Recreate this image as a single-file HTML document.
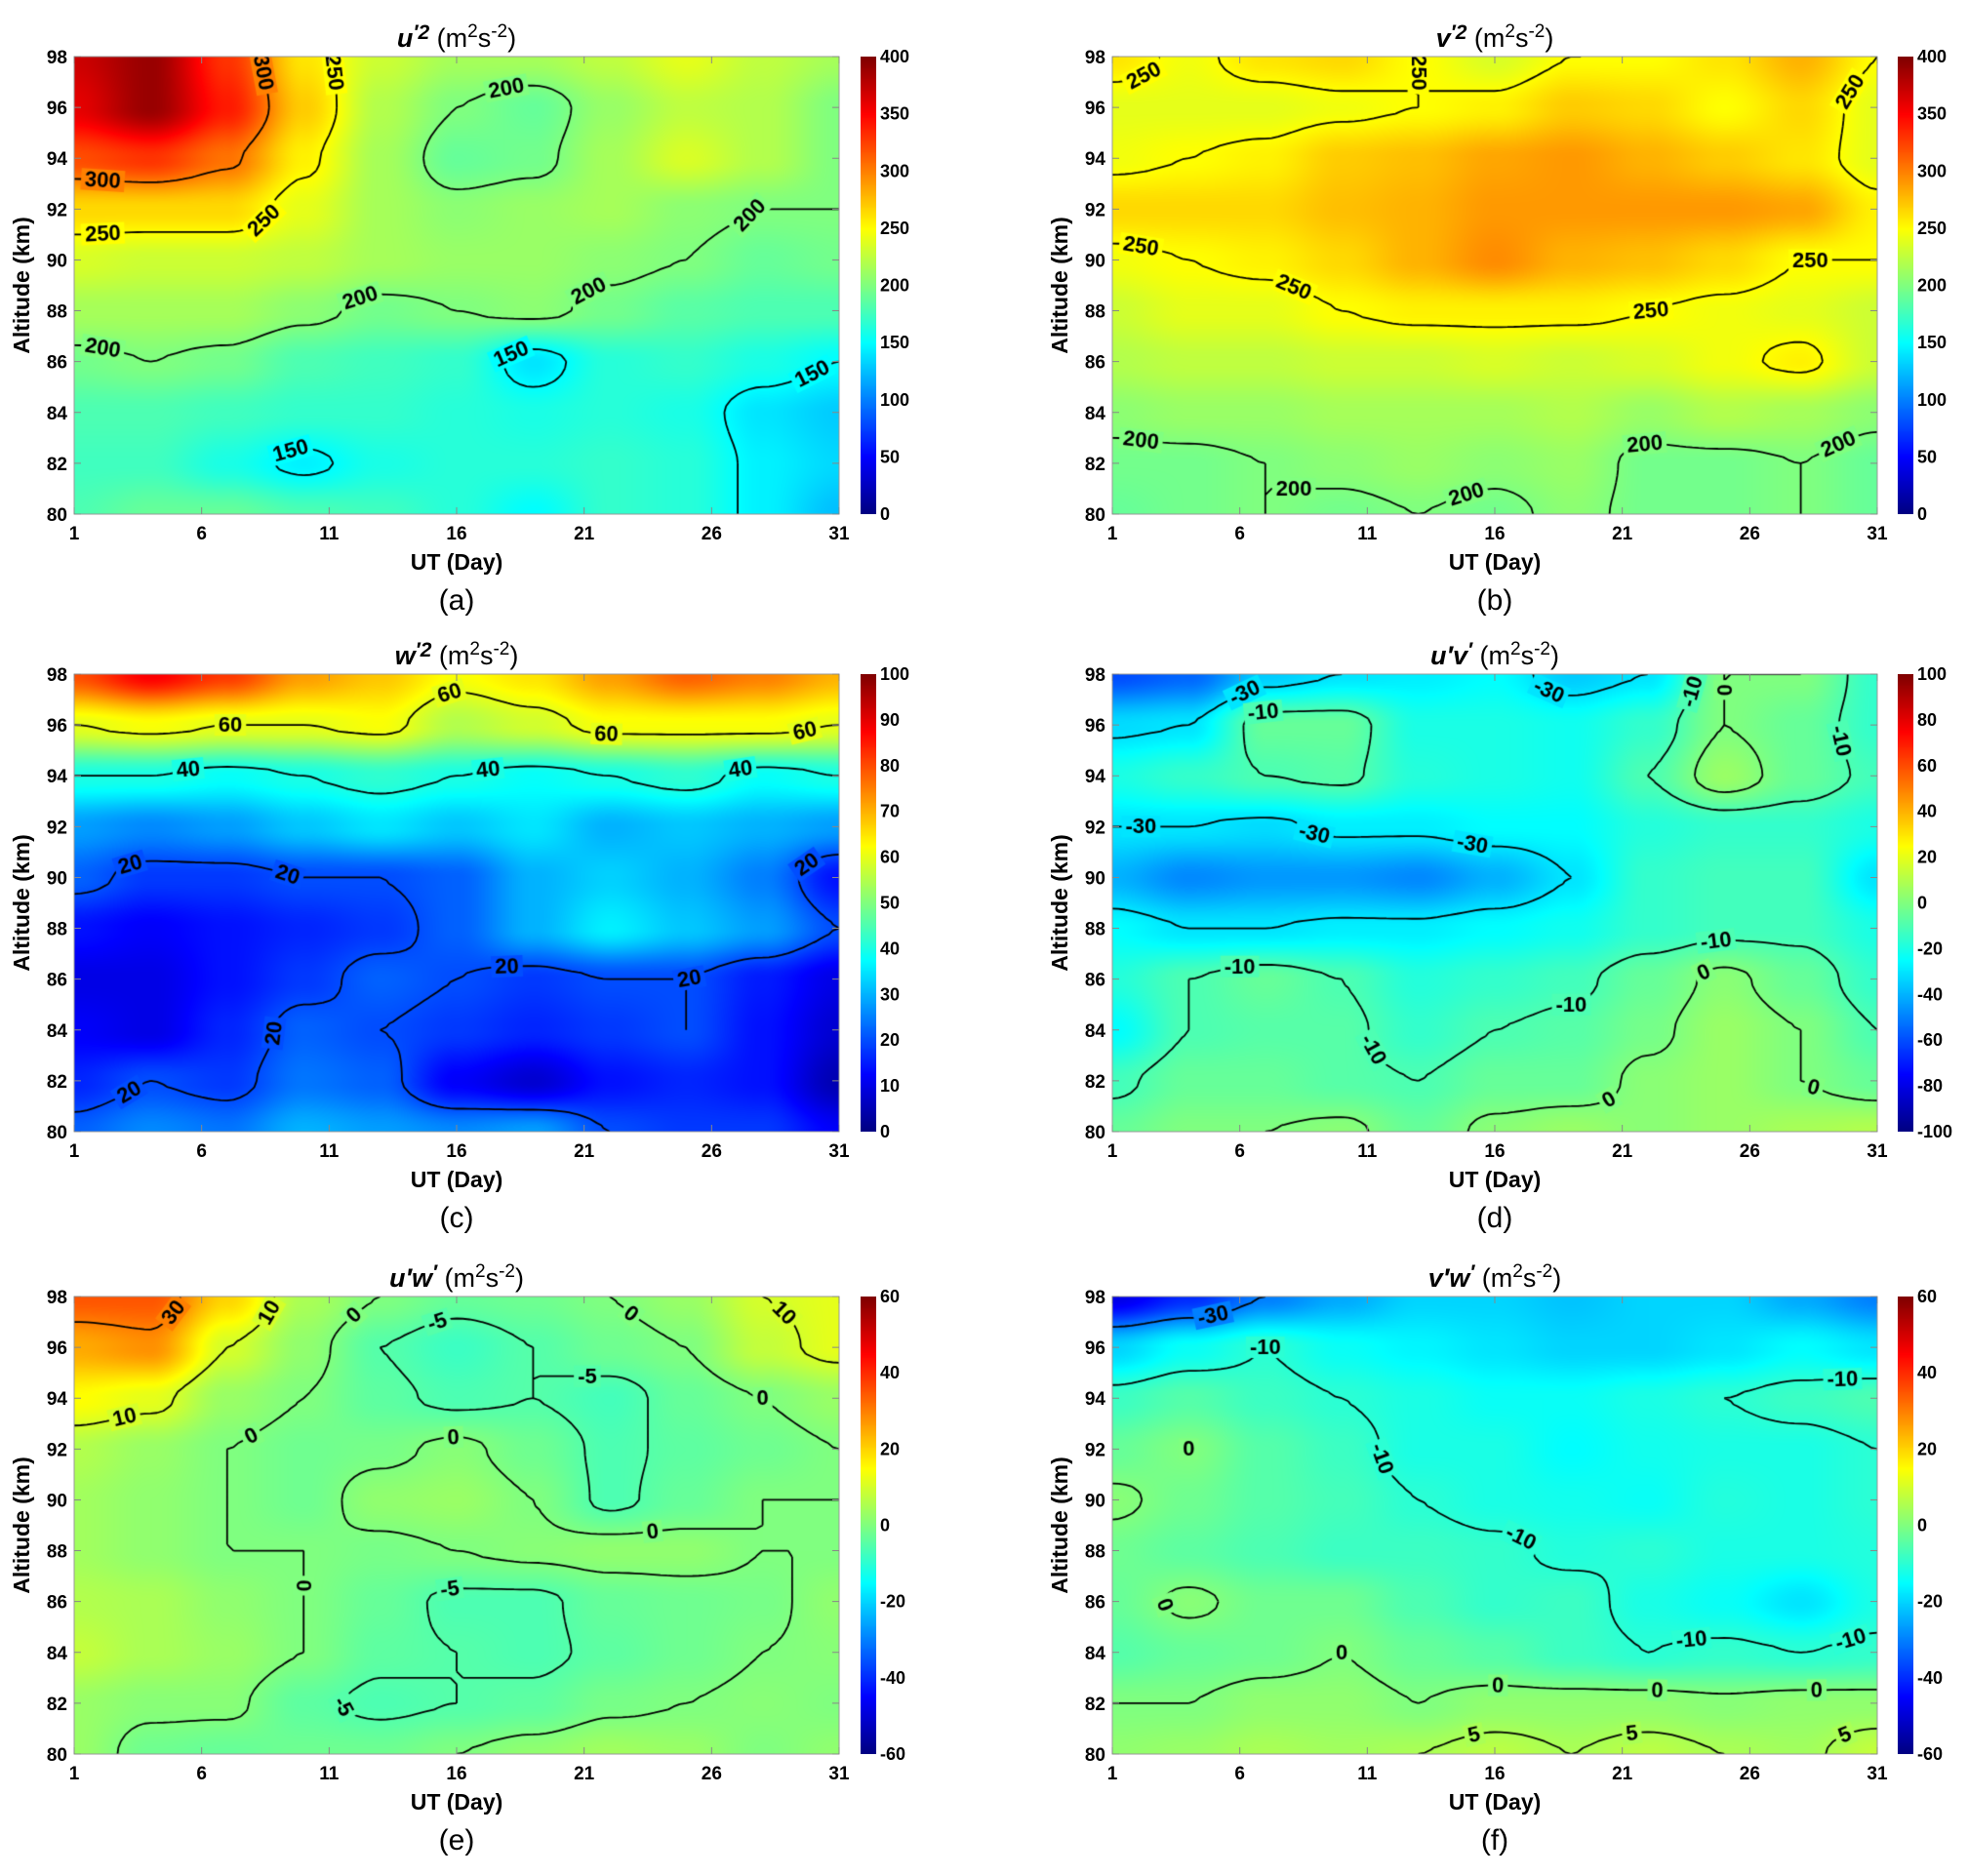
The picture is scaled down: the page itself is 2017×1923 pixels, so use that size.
<!DOCTYPE html>
<html><head><meta charset="utf-8">
<style>
html,body{margin:0;padding:0;background:#fff;}
#root{position:relative;width:2017px;height:1923px;overflow:hidden;font-family:"Liberation Sans",sans-serif;}
canvas{position:absolute;}
svg{position:absolute;left:0;top:0;}
</style></head>
<body>
<div id="root">
<svg id="ax" width="2017" height="1923"></svg>
</div>
<script>
// ---- data (rows listed top→bottom: altitude 98 → 80; columns = days) ----
const days=[1,4,7,10,13,16,19,22,25,28,31];
const alts=[98,96,94,92,90,88,86,84,82,80];
const xTicks=[1,6,11,16,21,26,31];
const yTicks=[80,82,84,86,88,90,92,94,96,98];
const uuValues=[
[370,390,330,260,230,215,215,225,240,225,215],
[360,390,340,270,220,200,190,210,225,220,200],
[320,330,305,255,215,190,195,215,235,220,200],
[265,265,265,240,215,205,210,215,205,200,200],
[235,230,230,225,215,210,210,205,200,190,195],
[215,215,215,205,195,200,205,195,185,180,180],
[195,200,195,180,175,170,140,165,170,160,150],
[180,180,175,170,170,165,160,165,160,140,130],
[175,175,160,145,160,165,165,170,165,145,135],
[180,190,190,180,175,165,150,170,165,145,125]];
const vvValues=[
[260,245,260,265,250,235,250,250,260,280,250],
[240,240,240,245,250,255,270,265,250,265,240],
[245,250,255,270,275,285,290,280,270,260,240],
[265,265,265,275,280,290,290,290,290,285,255],
[245,250,255,265,280,295,280,275,265,250,250],
[230,240,240,250,255,255,255,250,245,240,230],
[220,225,225,230,230,235,230,235,245,255,230],
[205,210,210,215,215,215,220,210,220,215,205],
[195,195,200,205,210,205,210,195,195,200,190],
[190,195,200,195,200,195,205,195,195,200,190]];
const wwValues=[
[80,88,82,72,68,62,65,72,78,75,70],
[60,62,60,60,62,55,58,62,62,62,60],
[40,40,38,40,42,40,38,40,42,38,40],
[28,26,28,32,35,32,35,30,32,30,28],
[22,18,18,20,20,22,30,33,30,25,14],
[14,12,14,16,18,22,30,36,32,28,20],
[10,10,14,18,22,20,18,20,20,15,10],
[12,10,16,22,20,18,16,18,20,14,8],
[16,20,18,24,22,12,8,14,16,14,5],
[22,26,24,30,28,26,28,20,18,18,12]];
const uvValues=[
[-60,-55,-35,-30,-28,-25,-35,-30,0,0,-15],
[-32,-30,-5,-5,-20,-20,-22,-15,0,-5,-15],
[-20,-15,-10,-8,-18,-20,-22,-10,5,-5,-12],
[-30,-30,-32,-28,-28,-25,-25,-18,-15,-15,-20],
[-40,-48,-45,-45,-48,-40,-30,-15,-12,-12,-30],
[-25,-30,-30,-28,-28,-25,-22,-15,-12,-12,-20],
[-18,-10,-5,-10,-18,-15,-12,-5,2,-5,-15],
[-25,-10,-8,-8,-15,-10,-8,-2,5,0,-10],
[-12,-5,-5,-8,-10,-5,-5,2,5,0,-5],
[-5,0,0,2,-5,2,5,2,5,8,10]];
const uwValues=[
[35,35,20,5,0,-3,-2,0,3,10,12],
[25,28,10,2,-5,-8,-5,-2,0,8,12],
[15,12,3,0,-4,-6,-5,-7,-3,0,3],
[6,3,0,-2,-1,1,-2,-6,-4,-2,0],
[4,2,0,-2,2,3,0,-6,-3,0,0],
[4,2,0,0,-1,0,1,2,2,0,0],
[6,5,2,0,-3,-6,-6,-3,-2,-1,2],
[8,5,3,0,-4,-5,-6,-4,-2,0,1],
[3,1,1,-4,-6,-5,-4,-1,0,1,0],
[3,-2,-3,-2,-2,0,2,4,3,0,2]];
const vwValues=[
[-48,-40,-30,-25,-20,-20,-22,-20,-20,-25,-30],
[-20,-14,-10,-14,-16,-18,-20,-20,-18,-15,-18],
[-8,-5,-8,-10,-12,-14,-14,-12,-10,-8,-6],
[-3,0,-5,-8,-12,-12,-15,-13,-12,-12,-10],
[1,-2,-5,-7,-10,-12,-13,-14,-11,-12,-10],
[-2,-4,-6,-8,-8,-9,-11,-10,-12,-12,-11],
[-3,1,-2,-2,-6,-9,-8,-12,-14,-18,-12],
[-5,-3,-2,0,-3,-5,-8,-10,-9,-10,-9],
[0,0,2,2,0,2,2,2,1,2,2],
[2,3,5,4,5,7,5,7,5,4,8]];
const uuLevels=[150,200,250,300], vvLevels=[200,250], wwLevels=[20,40,60];
const uvLevels=[-30,-10,0], uwLevels=[-5,0,10,30], vwLevels=[-30,-10,0,5];
const uuCbar=[0,50,100,150,200,250,300,350,400];
const wwCbar=[0,10,20,30,40,50,60,70,80,90,100];
const uvCbar=[-100,-80,-60,-40,-20,0,20,40,60,80,100];
const uwCbar=[-60,-40,-20,0,20,40,60];

const panels=[
 {id:'a',t1:'u',t2:'\u2032',sup:'2',vals:uuValues,lev:uuLevels,cb:uuCbar,x:76,y:58,cx:882},
 {id:'b',t1:'v',t2:'\u2032',sup:'2',vals:vvValues,lev:vvLevels,cb:uuCbar,x:1140,y:58,cx:1945},
 {id:'c',t1:'w',t2:'\u2032',sup:'2',vals:wwValues,lev:wwLevels,cb:wwCbar,x:76,y:691,cx:882},
 {id:'d',t1:'u\u2032v',t2:'\u2032',sup:'',vals:uvValues,lev:uvLevels,cb:uvCbar,x:1140,y:691,cx:1945},
 {id:'e',t1:'u\u2032w',t2:'\u2032',sup:'',vals:uwValues,lev:uwLevels,cb:uwCbar,x:76,y:1329,cx:882},
 {id:'f',t1:'v\u2032w',t2:'\u2032',sup:'',vals:vwValues,lev:vwLevels,cb:uwCbar,x:1140,y:1329,cx:1945}];
const W=784,H=469;
const root=document.getElementById('root');
const svg=document.getElementById('ax');
const NS='http://www.w3.org/2000/svg';

function jet(t){t=Math.max(0,Math.min(1,t));
 const f=x=>Math.max(0,Math.min(1,x));
 const r=f(1.5-Math.abs(4*t-3)),g=f(1.5-Math.abs(4*t-2)),b=f(1.5-Math.abs(4*t-1));
 return [r*255,g*255,b*255];}
function sample(vals,day,alt){
 let fx=(day-days[0])/(days[1]-days[0]), fy=(alts[0]-alt)/(alts[0]-alts[1]);
 fx=Math.max(0,Math.min(days.length-1.0001,fx)); fy=Math.max(0,Math.min(alts.length-1.0001,fy));
 const i=Math.floor(fx),j=Math.floor(fy),u=fx-i,v=fy-j;
 const su=u*u*(3-2*u), sv=v*v*(3-2*v);
 const a=vals[j][i],b=vals[j][i+1],c=vals[j+1][i],d=vals[j+1][i+1];
 return (a*(1-su)+b*su)*(1-sv)+(c*(1-su)+d*su)*sv;}
function txt(x,y,s,opts){const e=document.createElementNS(NS,'text');
 e.setAttribute('x',x);e.setAttribute('y',y);e.textContent=s;
 e.setAttribute('font-family','"Liberation Sans",sans-serif');
 for(const k in opts)e.setAttribute(k,opts[k]);svg.appendChild(e);return e;}

panels.forEach(p=>{
 const lo=p.cb[0],hi=p.cb[p.cb.length-1];
 const xS=d=>p.x+(d-1)/30*W, yS=a=>p.y+(98-a)/18*H;
 const cv=document.createElement('canvas');cv.width=W;cv.height=H;
 cv.style.left=p.x+'px';cv.style.top=p.y+'px';
 
 
 root.insertBefore(cv,svg);
 const ctx=cv.getContext('2d');const img=ctx.createImageData(W,H);
 for(let py=0;py<H;py++){const alt=98-18*py/H;
  for(let px=0;px<W;px++){const day=1+30*px/W;
   const c=jet((sample(p.vals,day,alt)-lo)/(hi-lo));const k=(py*W+px)*4;
   img.data[k]=c[0];img.data[k+1]=c[1];img.data[k+2]=c[2];img.data[k+3]=255;}}
 ctx.putImageData(img,0,0);
 const NX=121,NY=73;const G=[];
 for(let j=0;j<NY;j++){G.push([]);for(let i=0;i<NX;i++)G[j].push(sample(p.vals,1+30*i/(NX-1),98-18*j/(NY-1)));}
 const cw=W/(NX-1),ch=H/(NY-1);
 ctx.strokeStyle='#000';ctx.lineWidth=1.8;
 p.lev.forEach(L=>{const labels=[];ctx.beginPath();
  for(let j=0;j<NY-1;j++)for(let i=0;i<NX-1;i++){
   const v=[G[j][i],G[j][i+1],G[j+1][i+1],G[j+1][i]];
   const P=[[i,j],[i+1,j],[i+1,j+1],[i,j+1]];const pts=[];
   for(let e=0;e<4;e++){const a=v[e],b=v[(e+1)%4];
    if((a<L)!==(b<L)){const t=(L-a)/(b-a);const A=P[e],B=P[(e+1)%4];
     pts.push([(A[0]+(B[0]-A[0])*t)*cw,(A[1]+(B[1]-A[1])*t)*ch]);}}
   for(let q=0;q+1<pts.length;q+=2){ctx.moveTo(pts[q][0],pts[q][1]);ctx.lineTo(pts[q+1][0],pts[q+1][1]);
    const mx=(pts[q][0]+pts[q+1][0])/2,my=(pts[q][1]+pts[q+1][1])/2;
    if(mx>25&&mx<W-25&&my>15&&my<H-15&&labels.length<7&&labels.every(l=>Math.hypot(l[0]-mx,l[1]-my)>160)){
     let ang=Math.atan2(pts[q+1][1]-pts[q][1],pts[q+1][0]-pts[q][0]);
     if(ang>Math.PI/2)ang-=Math.PI;if(ang<-Math.PI/2)ang+=Math.PI;labels.push([mx,my,ang]);}}
  }
  ctx.stroke();
  ctx.font='bold 22px "Liberation Sans", sans-serif';ctx.textAlign='center';ctx.textBaseline='middle';
  labels.forEach(l=>{ctx.save();ctx.translate(l[0],l[1]);ctx.rotate(l[2]);
   const c=jet((L-lo)/(hi-lo));const w=ctx.measureText(String(L)).width+8;
   ctx.fillStyle='rgb('+c.map(Math.round).join(',')+')';ctx.fillRect(-w/2,-11,w,22);
   ctx.fillStyle='#000';ctx.fillText(String(L),0,1);ctx.restore();});
 });
 const r=document.createElementNS(NS,'rect');r.setAttribute('x',p.x);r.setAttribute('y',p.y);
 r.setAttribute('width',W);r.setAttribute('height',H);r.setAttribute('fill','none');r.setAttribute('stroke','#999');
 svg.appendChild(r);
 xTicks.forEach(d=>{const t=txt(xS(d),p.y+H+26,d,{'font-size':19,'font-weight':'bold','text-anchor':'middle'});
  
  const l=document.createElementNS(NS,'path');l.setAttribute('d','M'+xS(d)+' '+(p.y+H)+'v-7M'+xS(d)+' '+p.y+'v7');l.setAttribute('stroke','#888');svg.appendChild(l);});
 yTicks.forEach(a=>{const t=txt(p.x-7,yS(a)+7,a,{'font-size':19,'font-weight':'bold','text-anchor':'end'});
  
  const l=document.createElementNS(NS,'path');l.setAttribute('d','M'+p.x+' '+yS(a)+'h7M'+(p.x+W)+' '+yS(a)+'h-7');l.setAttribute('stroke','#888');svg.appendChild(l);});
 const xl=txt(p.x+W/2,p.y+H+57,'UT (Day)',{'font-size':23,'font-weight':'bold','text-anchor':'middle'});
 
 const yl=txt(0,0,'Altitude (km)',{'font-size':23,'font-weight':'bold','text-anchor':'middle','transform':'translate('+(p.x-46)+','+(p.y+H/2)+') rotate(-90)'});
 
 const pl=txt(p.x+W/2,p.y+H+98,'('+p.id+')',{'font-size':30,'text-anchor':'middle'});
 
 const tt=txt(p.x+W/2,p.y-10,'',{'font-size':27,'text-anchor':'middle'});
 
 tt.innerHTML='<tspan font-weight="bold" font-style="italic">'+p.t1+'</tspan><tspan font-weight="bold" font-style="italic" dy="-8" font-size="21">'+p.t2+(p.sup?p.sup:'')+'</tspan><tspan dy="8"> (m</tspan><tspan dy="-10" font-size="19">2</tspan><tspan dy="10">s</tspan><tspan dy="-10" font-size="19">-2</tspan><tspan dy="10">)</tspan>';
 const cb=document.createElement('canvas');cb.width=16;cb.height=H;cb.style.left=p.cx+'px';cb.style.top=p.y+'px';
 root.insertBefore(cb,svg);
 const c2=cb.getContext('2d');for(let y=0;y<H;y++){const c=jet(1-y/H);c2.fillStyle='rgb('+c.map(Math.round).join(',')+')';c2.fillRect(0,y,16,1);}
 p.cb.forEach(v=>{const y=p.y+(hi-v)/(hi-lo)*H;
  const t=txt(p.cx+20,y+6,v,{'font-size':18,'font-weight':'bold'});
  });
});
</script>
</body></html>
